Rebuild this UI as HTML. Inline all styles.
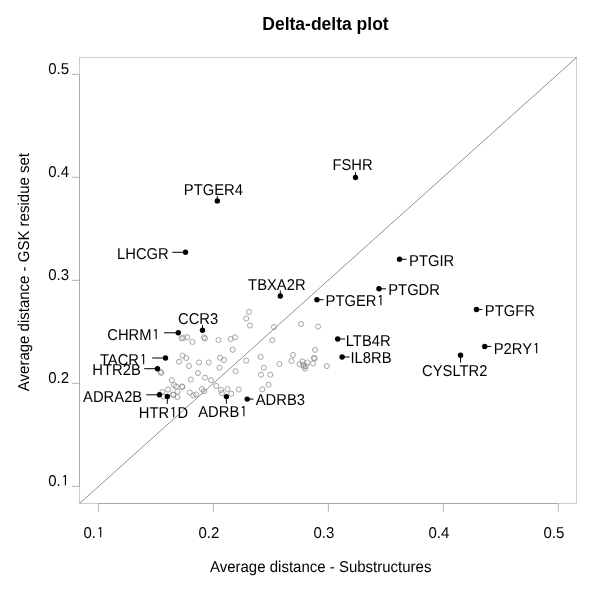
<!DOCTYPE html>
<html><head><meta charset="utf-8"><style>
html,body{margin:0;padding:0;background:#fff;}
svg{display:block;}
text{font-family:"Liberation Sans",Arial,sans-serif;fill:#000;}
.t{text-rendering:geometricPrecision;}
</style></head><body>
<svg width="600" height="597" viewBox="0 0 600 597">
<text x="325.5" y="30.2" text-anchor="middle" font-weight="bold" font-size="17.5">Delta-delta plot</text>
<rect x="79.5" y="57.5" width="497.0" height="446.0" fill="none" stroke="#cdcdcd" stroke-width="1"/>
<line x1="79.5" y1="503.5" x2="576.5" y2="57.5" stroke="#858585" stroke-width="0.9"/>
<path d="M72 486.40H79.5M72 383.38H79.5M72 280.35H79.5M72 177.32H79.5M72 74.30H79.5" stroke="#b3b3b3" fill="none"/>
<path d="M79.5 486.40V74.30" stroke="#a9a9a9" fill="none"/>
<path d="M98.40 503.5V511.5M213.38 503.5V511.5M328.35 503.5V511.5M443.33 503.5V511.5M558.30 503.5V511.5" stroke="#b3b3b3" fill="none"/>
<path d="M98.40 503.5H558.30" stroke="#a9a9a9" fill="none"/>
<text class="t" transform="translate(68.66 486.10) scale(1 1.05)" text-anchor="end" font-size="15">0.<tspan dx="0.9" font-family="IPAGothic, Liberation Sans, sans-serif" font-size="14">1</tspan></text>
<text class="t" transform="translate(93.68 537.7) scale(1 1.05)" text-anchor="middle" font-size="15">0.<tspan dx="0.9" font-family="IPAGothic, Liberation Sans, sans-serif" font-size="14">1</tspan></text>
<text class="t" transform="translate(69.10 383.07) scale(1 1.05)" text-anchor="end" font-size="15">0.2</text>
<text class="t" transform="translate(208.88 537.7) scale(1 1.05)" text-anchor="middle" font-size="15">0.2</text>
<text class="t" transform="translate(69.10 280.05) scale(1 1.05)" text-anchor="end" font-size="15">0.3</text>
<text class="t" transform="translate(323.85 537.7) scale(1 1.05)" text-anchor="middle" font-size="15">0.3</text>
<text class="t" transform="translate(69.10 177.02) scale(1 1.05)" text-anchor="end" font-size="15">0.4</text>
<text class="t" transform="translate(438.83 537.7) scale(1 1.05)" text-anchor="middle" font-size="15">0.4</text>
<text class="t" transform="translate(69.10 74.00) scale(1 1.05)" text-anchor="end" font-size="15">0.5</text>
<text class="t" transform="translate(553.80 537.7) scale(1 1.05)" text-anchor="middle" font-size="15">0.5</text>
<text class="t" transform="translate(320.7 571.75) scale(1 1.05)" text-anchor="middle" font-size="15">Average distance - Substructures</text>
<text class="t" transform="translate(28.6 272.1) rotate(-90) scale(1 1.05)" text-anchor="middle" font-size="15">Average distance - GSK residue set</text>
<g fill="none" stroke="#8a8a8a" stroke-width="0.75">
<circle cx="181.5" cy="338.3" r="2.55"/><circle cx="183.2" cy="338.0" r="2.55"/><circle cx="187.2" cy="337.2" r="2.55"/><circle cx="192.5" cy="341.9" r="2.55"/><circle cx="204.0" cy="337.25" r="2.55"/><circle cx="205.0" cy="338.5" r="2.55"/><circle cx="218.5" cy="339.9" r="2.55"/><circle cx="230.8" cy="339.0" r="2.55"/><circle cx="235.0" cy="337.3" r="2.55"/><circle cx="232.75" cy="349.75" r="2.55"/><circle cx="249.0" cy="311.9" r="2.55"/><circle cx="246.25" cy="318.5" r="2.55"/><circle cx="250.0" cy="325.6" r="2.55"/><circle cx="274.0" cy="327.1" r="2.55"/><circle cx="272.3" cy="340.2" r="2.55"/><circle cx="301.0" cy="324.0" r="2.55"/><circle cx="318.1" cy="326.6" r="2.55"/><circle cx="182.5" cy="355.6" r="2.55"/><circle cx="186.25" cy="358.0" r="2.55"/><circle cx="179.0" cy="361.75" r="2.55"/><circle cx="189.0" cy="366.0" r="2.55"/><circle cx="199.0" cy="362.5" r="2.55"/><circle cx="208.75" cy="362.5" r="2.55"/><circle cx="220.0" cy="357.75" r="2.55"/><circle cx="224.0" cy="360.0" r="2.55"/><circle cx="219.5" cy="367.8" r="2.55"/><circle cx="246.25" cy="360.6" r="2.55"/><circle cx="260.6" cy="356.9" r="2.55"/><circle cx="263.75" cy="367.75" r="2.55"/><circle cx="261.0" cy="374.7" r="2.55"/><circle cx="270.3" cy="374.7" r="2.55"/><circle cx="235.6" cy="371.25" r="2.55"/><circle cx="197.9" cy="373.0" r="2.55"/><circle cx="160.5" cy="371.8" r="2.55"/><circle cx="161.3" cy="373.0" r="2.55"/><circle cx="279.4" cy="364.0" r="2.55"/><circle cx="293.0" cy="355.0" r="2.55"/><circle cx="291.5" cy="361.0" r="2.55"/><circle cx="314.0" cy="358.0" r="2.55"/><circle cx="314.5" cy="358.5" r="2.55"/><circle cx="313.0" cy="363.5" r="2.55"/><circle cx="315.1" cy="349.9" r="2.55"/><circle cx="299.5" cy="364.25" r="2.55"/><circle cx="302.5" cy="361.5" r="2.55"/><circle cx="307.5" cy="362.5" r="2.55"/><circle cx="303.75" cy="366.5" r="2.55"/><circle cx="305.0" cy="368.5" r="2.55"/><circle cx="326.9" cy="366.0" r="2.55"/><circle cx="303.3" cy="364.8" r="2.55"/><circle cx="305.8" cy="366.3" r="2.55"/><circle cx="205.0" cy="377.6" r="2.55"/><circle cx="211.0" cy="380.2" r="2.55"/><circle cx="216.25" cy="386.0" r="2.55"/><circle cx="221.0" cy="390.0" r="2.55"/><circle cx="221.9" cy="393.1" r="2.55"/><circle cx="227.5" cy="389.0" r="2.55"/><circle cx="231.25" cy="393.75" r="2.55"/><circle cx="238.75" cy="389.4" r="2.55"/><circle cx="262.3" cy="389.3" r="2.55"/><circle cx="268.5" cy="384.7" r="2.55"/><circle cx="171.8" cy="380.2" r="2.55"/><circle cx="190.8" cy="379.6" r="2.55"/><circle cx="174.0" cy="385.0" r="2.55"/><circle cx="176.2" cy="386.5" r="2.55"/><circle cx="182.0" cy="386.5" r="2.55"/><circle cx="182.4" cy="387.0" r="2.55"/><circle cx="168.0" cy="389.5" r="2.55"/><circle cx="177.5" cy="391.5" r="2.55"/><circle cx="162.5" cy="391.8" r="2.55"/><circle cx="173.0" cy="394.6" r="2.55"/><circle cx="173.4" cy="395.0" r="2.55"/><circle cx="177.5" cy="397.0" r="2.55"/><circle cx="163.5" cy="396.5" r="2.55"/><circle cx="189.8" cy="392.5" r="2.55"/><circle cx="193.2" cy="395.5" r="2.55"/><circle cx="196.2" cy="394.5" r="2.55"/><circle cx="202.0" cy="389.0" r="2.55"/><circle cx="204.0" cy="391.2" r="2.55"/></g>
<line x1="355.5" y1="177.5" x2="355.5" y2="172.2" stroke="#000" stroke-width="1"/><circle cx="355.5" cy="177.5" r="2.7" fill="#000"/><text class="t" transform="translate(332.45 170.30) scale(0.985 1.05)" font-size="15">FSHR</text>
<line x1="217.3" y1="200.9" x2="217.3" y2="196.0" stroke="#000" stroke-width="1"/><circle cx="217.3" cy="200.9" r="2.7" fill="#000"/><text class="t" transform="translate(183.85 194.65) scale(0.985 1.05)" font-size="15">PTGER4</text>
<line x1="185.5" y1="252.3" x2="172.3" y2="252.3" stroke="#000" stroke-width="1"/><circle cx="185.5" cy="252.3" r="2.7" fill="#000"/><text class="t" transform="translate(117.05 258.50) scale(0.985 1.05)" font-size="15">LHCGR</text>
<line x1="280.3" y1="296.0" x2="280.3" y2="290.5" stroke="#000" stroke-width="1"/><circle cx="280.3" cy="296.0" r="2.7" fill="#000"/><text class="t" transform="translate(248.10 289.65) scale(0.985 1.05)" font-size="15">TBXA2R</text>
<line x1="316.9" y1="299.7" x2="323.5" y2="299.7" stroke="#000" stroke-width="1"/><circle cx="316.9" cy="299.7" r="2.7" fill="#000"/><text class="t" transform="translate(325.55 305.65) scale(0.985 1.05)" font-size="15">PTGER<tspan dx="0.9" font-family="IPAGothic, Liberation Sans, sans-serif" font-size="14">1</tspan></text>
<line x1="399.55" y1="259.25" x2="406.5" y2="259.25" stroke="#000" stroke-width="1"/><circle cx="399.55" cy="259.25" r="2.7" fill="#000"/><text class="t" transform="translate(409.10 265.65) scale(0.985 1.05)" font-size="15">PTGIR</text>
<line x1="379.0" y1="288.8" x2="386.0" y2="288.8" stroke="#000" stroke-width="1"/><circle cx="379.0" cy="288.8" r="2.7" fill="#000"/><text class="t" transform="translate(388.25 295.00) scale(0.985 1.05)" font-size="15">PTGDR</text>
<line x1="476.5" y1="309.55" x2="482.4" y2="309.55" stroke="#000" stroke-width="1"/><circle cx="476.5" cy="309.55" r="2.7" fill="#000"/><text class="t" transform="translate(484.80 315.80) scale(0.985 1.05)" font-size="15">PTGFR</text>
<line x1="484.75" y1="346.45" x2="491.3" y2="346.45" stroke="#000" stroke-width="1"/><circle cx="484.75" cy="346.45" r="2.7" fill="#000"/><text class="t" transform="translate(493.67 353.65) scale(0.985 1.05)" font-size="15">P2RY<tspan dx="0.9" font-family="IPAGothic, Liberation Sans, sans-serif" font-size="14">1</tspan></text>
<line x1="460.55" y1="355.2" x2="460.55" y2="362.5" stroke="#000" stroke-width="1"/><circle cx="460.55" cy="355.2" r="2.7" fill="#000"/><text class="t" transform="translate(422.03 375.65) scale(0.985 1.05)" font-size="15">CYSLTR2</text>
<line x1="337.7" y1="339.0" x2="345.0" y2="339.0" stroke="#000" stroke-width="1"/><circle cx="337.7" cy="339.0" r="2.7" fill="#000"/><text class="t" transform="translate(345.75 345.50) scale(0.985 1.05)" font-size="15">LTB4R</text>
<line x1="342.1" y1="357.0" x2="349.5" y2="357.0" stroke="#000" stroke-width="1"/><circle cx="342.1" cy="357.0" r="2.7" fill="#000"/><text class="t" transform="translate(350.45 363.40) scale(0.985 1.05)" font-size="15">IL8RB</text>
<line x1="202.5" y1="330.3" x2="202.5" y2="325.0" stroke="#000" stroke-width="1"/><circle cx="202.5" cy="330.3" r="2.7" fill="#000"/><text class="t" transform="translate(178.01 323.90) scale(0.985 1.05)" font-size="15">CCR3</text>
<line x1="178.3" y1="332.8" x2="164.0" y2="332.8" stroke="#000" stroke-width="1"/><circle cx="178.3" cy="332.8" r="2.7" fill="#000"/><text class="t" transform="translate(107.25 340.10) scale(0.985 1.05)" font-size="15">CHRM<tspan dx="0.9" font-family="IPAGothic, Liberation Sans, sans-serif" font-size="14">1</tspan></text>
<line x1="165.5" y1="358.0" x2="152.2" y2="358.0" stroke="#000" stroke-width="1"/><circle cx="165.5" cy="358.0" r="2.7" fill="#000"/><text class="t" transform="translate(99.91 364.70) scale(0.985 1.05)" font-size="15">TACR<tspan dx="0.9" font-family="IPAGothic, Liberation Sans, sans-serif" font-size="14">1</tspan></text>
<line x1="157.5" y1="368.7" x2="144.2" y2="368.7" stroke="#000" stroke-width="1"/><circle cx="157.5" cy="368.7" r="2.7" fill="#000"/><text class="t" transform="translate(92.35 375.35) scale(0.985 1.05)" font-size="15">HTR2B</text>
<line x1="159.5" y1="394.8" x2="146.3" y2="394.8" stroke="#000" stroke-width="1"/><circle cx="159.5" cy="394.8" r="2.7" fill="#000"/><text class="t" transform="translate(83.08 401.80) scale(0.985 1.05)" font-size="15">ADRA2B</text>
<line x1="167.3" y1="396.4" x2="167.3" y2="403.8" stroke="#000" stroke-width="1"/><circle cx="167.3" cy="396.4" r="2.7" fill="#000"/><text class="t" transform="translate(138.85 418.30) scale(0.985 1.05)" font-size="15">HTR<tspan dx="0.9" font-family="IPAGothic, Liberation Sans, sans-serif" font-size="14">1</tspan><tspan dx="0.44">D</tspan></text>
<line x1="226.4" y1="396.6" x2="226.4" y2="403.75" stroke="#000" stroke-width="1"/><circle cx="226.4" cy="396.6" r="2.7" fill="#000"/><text class="t" transform="translate(198.25 417.40) scale(0.985 1.05)" font-size="15">ADRB<tspan dx="0.9" font-family="IPAGothic, Liberation Sans, sans-serif" font-size="14">1</tspan></text>
<line x1="247.2" y1="399.1" x2="253.6" y2="399.1" stroke="#000" stroke-width="1"/><circle cx="247.2" cy="399.1" r="2.7" fill="#000"/><text class="t" transform="translate(255.70 405.40) scale(0.985 1.05)" font-size="15">ADRB3</text>
</svg></body></html>
